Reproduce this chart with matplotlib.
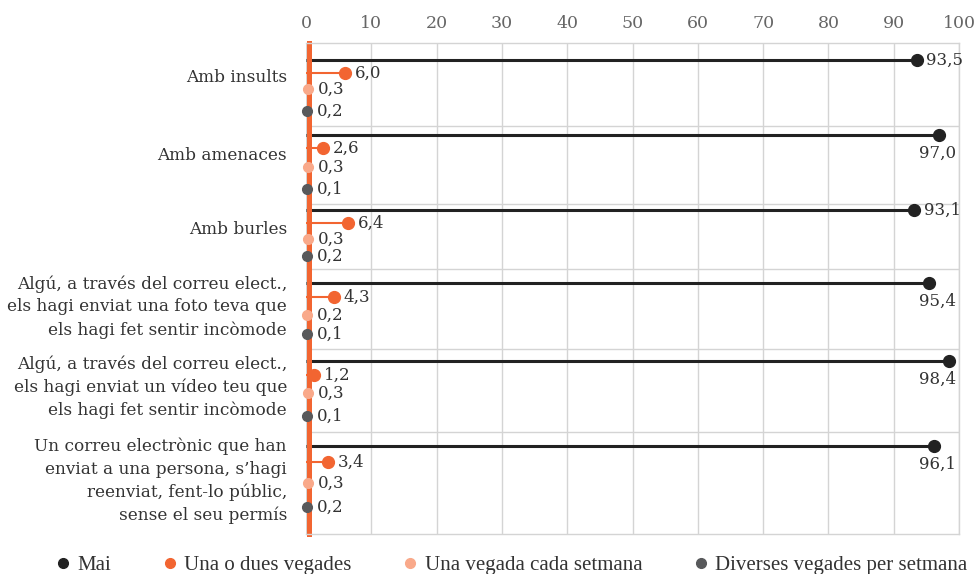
import matplotlib
matplotlib.use("Agg")
import matplotlib.pyplot as plt
from matplotlib.lines import Line2D

plt.rcParams['font.family'] = ['DejaVu Serif']

# Data
categories = [
    "Amb insults",
    "Amb amenaces",
    "Amb burles",
    "Algú, a través del correu elect.,\nels hagi enviat una foto teva que\nels hagi fet sentir incòmode",
    "Algú, a través del correu elect.,\nels hagi enviat un vídeo teu que\nels hagi fet sentir incòmode",
    "Un correu electrònic que han\nenviat a una persona, s’hagi\nreenviat, fent-lo públic,\nsense el seu permís",
]
series_names = ["Mai", "Una o dues vegades", "Una vegada cada setmana",
                "Diverses vegades per setmana"]
mai = [93.5, 97.0, 93.1, 95.4, 98.4, 96.1]
una_o_dues = [6.0, 2.6, 6.4, 4.3, 1.2, 3.4]
una_setmana = [0.3, 0.3, 0.3, 0.2, 0.3, 0.3]
diverses = [0.2, 0.1, 0.2, 0.1, 0.1, 0.2]
series_values = [mai, una_o_dues, una_setmana, diverses]
xticks = list(range(0, 101, 10))

# Layout (vertical rows inside each group, top-down units)
row_y = [[60, 73, 89, 111], [135, 148, 167, 189], [210, 223, 239, 256],
         [283, 297, 315, 334], [361, 375, 393, 416], [446, 462, 483, 507]]
group_sep = [126, 204, 269, 349, 432]
label_y = [77, 155, 230, 307, 387, 481]
y_top, y_bottom = 43, 534

colors = ["#222222", "#f26531", "#f9a98a", "#58595b"]
line_w = [2.2, 1.5, 1.2, 1.2]
dot_s = [8.5, 8.5, 7, 7]
txt = "#333333"
grid_c = "#d4d4d4"

fig = plt.figure(figsize=(9.77, 5.74), dpi=100)
ax = fig.add_axes([306 / 977, 1 - y_bottom / 574, (959 - 306) / 977, (y_bottom - y_top) / 574])
ax.set_xlim(0, 100)
ax.set_ylim(y_bottom, y_top)

for xv in xticks:
    ax.axvline(xv, color=grid_c, lw=1.0, zorder=0)
for yv in group_sep:
    ax.axhline(yv, color=grid_c, lw=1.0, zorder=0)

def fmt(v):
    return f"{v:.1f}".replace(".", ",")

for gi in range(len(categories)):
    for si, vals in enumerate(series_values):
        v = vals[gi]
        y = row_y[gi][si]
        ax.plot([0, v], [y, y], color=colors[si], lw=line_w[si], zorder=2,
                solid_capstyle='butt')
        ax.plot([v], [y], 'o', color=colors[si], ms=dot_s[si], zorder=5, clip_on=False)
        if si == 0 and v > 95:
            ax.annotate(fmt(v), xy=(100, y), xytext=(-2, -13), textcoords='offset points',
                        ha='right', va='center', fontsize=12, color=txt)
        else:
            ax.annotate(fmt(v), xy=(v, y), xytext=(7, 0), textcoords='offset points',
                        ha='left', va='center', fontsize=12, color=txt)
    ax.text(-19 / 6.53, label_y[gi], categories[gi], ha='right', va='center',
            fontsize=12.2, color=txt, linespacing=1.42, transform=ax.transData,
            clip_on=False)

ax.set_yticks([])
ax.set_xticks(xticks)
ax.xaxis.tick_top()
ax.tick_params(axis='x', length=0, pad=8, labelsize=12.5, labelcolor="#666666")

for side in ['top', 'right', 'bottom']:
    ax.spines[side].set_color(grid_c)
    ax.spines[side].set_linewidth(1.0)
ax.spines['left'].set_color(colors[1])
ax.spines['left'].set_linewidth(3.6)
ax.spines['left'].set_position(('outward', -1.8))
ax.spines['left'].set_zorder(2.5)

handles = [Line2D([], [], marker='o', ls='none', color=c, ms=7) for c in colors]
fig.legend(handles, series_names, loc='center', bbox_to_anchor=(0.522, 0.015), ncol=4,
           frameon=False, prop={'family': 'Liberation Serif', 'size': 15},
           handletextpad=0.2, columnspacing=2.3, handlelength=1.0, labelcolor=txt)

fig.savefig("out.png", dpi=100)
